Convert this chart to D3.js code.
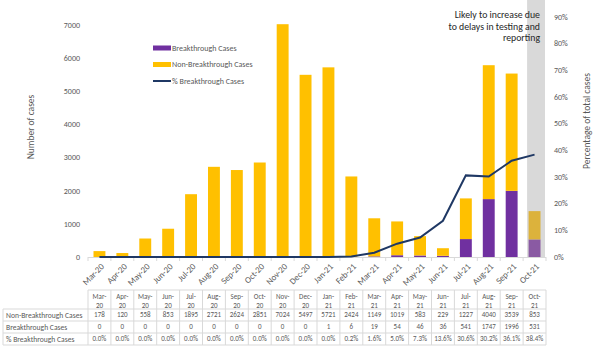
<!DOCTYPE html>
<html>
<head>
<meta charset="utf-8">
<script src="https://cdn.jsdelivr.net/npm/d3@7"></script>
<style>
  body { margin: 0; background: #fff; }
  svg { font-family: Calibri, Carlito, "Liberation Sans", sans-serif; }
</style>
</head>
<body>
<div id="chart"></div>
<script>
// values
const months = ["Mar-20", "Apr-20", "May-20", "Jun-20", "Jul-20", "Aug-20", "Sep-20", "Oct-20", "Nov-20", "Dec-20",
                "Jan-21", "Feb-21", "Mar-21", "Apr-21", "May-21", "Jun-21", "Jul-21", "Aug-21", "Sep-21", "Oct-21"];
const nonBreakthrough = [178, 120, 558, 853, 1895, 2721, 2624, 2851, 7024, 5497,
                         5721, 2424, 1149, 1019, 583, 229, 1227, 4040, 3539, 853];
const breakthrough = [0, 0, 0, 0, 0, 0, 0, 0, 0, 0,
                      1, 6, 19, 54, 46, 36, 541, 1747, 1996, 531];
const pctBreakthrough = [0.0, 0.0, 0.0, 0.0, 0.0, 0.0, 0.0, 0.0, 0.0, 0.0,
                         0.0, 0.2, 1.6, 5.0, 7.3, 13.6, 30.6, 30.2, 36.1, 38.4];
const leftTicks = [0, 1000, 2000, 3000, 4000, 5000, 6000, 7000];
const rightTicks = [0, 10, 20, 30, 40, 50, 60, 70, 80, 90];
const provisionalMonth = "Oct-21";

const width = 600, height = 350;
const purple = "#7030a0", gold = "#ffc000", navy = "#1f3864";
const textGray = "#595959";

const svg = d3.select("#chart").append("svg")
    .attr("width", width)
    .attr("height", height);

const x = d3.scaleBand().domain(months).range([88, 546]).paddingInner(0.48).paddingOuter(0.24);
const band = d3.scaleBand().domain(months).range([88, 546]);
const y = d3.scaleLinear().domain([0, 7000]).range([257, 25]);
const yPct = d3.scaleLinear().domain([0, 90]).range([257, 17]);

// shaded area for the last month (incomplete data)
svg.append("rect")
    .attr("x", band(provisionalMonth) + 4)
    .attr("y", 0)
    .attr("width", band.bandwidth() - 5)
    .attr("height", y(0))
    .attr("fill", "#d9d9d9");

// stacked bars
const stacked = d3.stack().keys(["b", "nb"])(months.map((m, i) => ({
    month: m, b: breakthrough[i], nb: nonBreakthrough[i]
})));
const faded = {b: "#8a5aa3", nb: "#dcb23c"};
const normal = {b: purple, nb: gold};

svg.append("g").selectAll("g")
    .data(stacked)
    .join("g")
    .selectAll("rect")
    .data(s => s.map(d => Object.assign(d, {key: s.key})))
    .join("rect")
        .attr("x", d => x(d.data.month))
        .attr("y", d => y(d[1]))
        .attr("width", x.bandwidth())
        .attr("height", d => y(d[0]) - y(d[1]))
        .attr("fill", d => d.data.month == provisionalMonth ? faded[d.key] : normal[d.key]);

// x axis line with tick marks between categories
const xAxis = svg.append("g");
xAxis.append("line")
    .attr("x1", 88).attr("x2", 546)
    .attr("y1", y(0) + 0.5).attr("y2", y(0) + 0.5)
    .attr("stroke", "#d9d9d9");
xAxis.selectAll(".tk")
    .data(months.concat(["end"]))
    .join("line")
        .attr("class", "tk")
        .attr("x1", (d, i) => 88 + i * band.bandwidth())
        .attr("x2", (d, i) => 88 + i * band.bandwidth())
        .attr("y1", y(0)).attr("y2", y(0) + 4)
        .attr("stroke", "#d9d9d9");
xAxis.selectAll("text")
    .data(months)
    .join("text")
        .attr("transform", d => "translate(" + (band(d) + band.bandwidth() / 2 + 3) + "," + (y(0) + 8) + ") rotate(-45)")
        .attr("text-anchor", "end")
        .attr("dy", "0.35em")
        .attr("font-size", 8.8)
        .attr("fill", textGray)
        .text(d => d);

// % line
const line = d3.line()
    .x((d, i) => band(months[i]) + band.bandwidth() / 2)
    .y(d => yPct(d));
svg.append("path")
    .datum(pctBreakthrough)
    .attr("d", line)
    .attr("fill", "none")
    .attr("stroke", navy)
    .attr("stroke-width", 2);

// left axis
svg.append("g").selectAll("text")
    .data(leftTicks)
    .join("text")
        .attr("x", 80)
        .attr("y", d => y(d))
        .attr("dy", "0.35em")
        .attr("text-anchor", "end")
        .attr("font-size", 8)
        .attr("fill", textGray)
        .text(d => d);

// right axis
svg.append("g").selectAll("text")
    .data(rightTicks)
    .join("text")
        .attr("x", 554)
        .attr("y", d => yPct(d))
        .attr("dy", "0.35em")
        .attr("font-size", 8)
        .attr("fill", textGray)
        .text(d => d + "%");

// axis titles
svg.append("text")
    .attr("transform", "translate(34,127) rotate(-90)")
    .attr("text-anchor", "middle")
    .attr("font-size", 9.5)
    .attr("fill", textGray)
    .text("Number of cases");
svg.append("text")
    .attr("transform", "translate(590,121) rotate(-90)")
    .attr("text-anchor", "middle")
    .attr("font-size", 9.5)
    .attr("fill", textGray)
    .text("Percentage of total cases");

// annotation
svg.append("text")
    .attr("text-anchor", "end")
    .attr("font-size", 9.8)
    .attr("fill", "#262626")
    .selectAll("tspan")
    .data(["Likely to increase due", "to delays in testing and", "reporting"])
    .join("tspan")
        .attr("x", 540)
        .attr("y", (d, i) => 18 + i * 11.5)
        .text(d => d);

// legend
const legendItems = [
    {label: "Breakthrough Cases", color: purple, type: "rect"},
    {label: "Non-Breakthrough Cases", color: gold, type: "rect"},
    {label: "% Breakthrough Cases", color: navy, type: "line"}
];
const legend = svg.append("g").selectAll("g")
    .data(legendItems)
    .join("g")
    .attr("transform", (d, i) => "translate(153," + (48 + i * 16.5) + ")");
legend.append("rect")
    .attr("x", 0)
    .attr("y", d => d.type == "rect" ? -2.5 : -1)
    .attr("width", 18)
    .attr("height", d => d.type == "rect" ? 5 : 2)
    .attr("fill", d => d.color);
legend.append("text")
    .attr("x", 19)
    .attr("dy", "0.35em")
    .attr("font-size", 8)
    .attr("fill", textGray)
    .text(d => d.label);

// data table
const table = svg.append("g");
const rowLines = [290, 309, 321, 333, 345];
const tableLine = "#d9d9d9";
table.append("line")
    .attr("x1", 88).attr("x2", 546)
    .attr("y1", rowLines[0]).attr("y2", rowLines[0])
    .attr("stroke", tableLine);
rowLines.slice(1).forEach(r => {
    table.append("line")
        .attr("x1", 3).attr("x2", 546)
        .attr("y1", r).attr("y2", r)
        .attr("stroke", tableLine);
});
table.append("line")
    .attr("x1", 3).attr("x2", 3)
    .attr("y1", rowLines[1]).attr("y2", rowLines[4])
    .attr("stroke", tableLine);
table.selectAll(".col")
    .data(months.concat(["end"]))
    .join("line")
        .attr("x1", (d, i) => 88 + i * band.bandwidth())
        .attr("x2", (d, i) => 88 + i * band.bandwidth())
        .attr("y1", rowLines[0]).attr("y2", rowLines[4])
        .attr("stroke", tableLine);

// header (month split over two lines)
table.selectAll(".hdr")
    .data(months)
    .join("text")
        .attr("class", "hdr")
        .attr("text-anchor", "middle")
        .attr("font-size", 7)
        .attr("fill", textGray)
        .selectAll("tspan")
        .data(d => {
            const p = d.split("-");
            return [{m: d, t: p[0] + "-", i: 0}, {m: d, t: p[1], i: 1}];
        })
        .join("tspan")
            .attr("x", d => band(d.m) + band.bandwidth() / 2)
            .attr("y", d => 299 + d.i * 8.5)
            .text(d => d.t);

const rows = [
    {label: "Non-Breakthrough Cases", values: nonBreakthrough.map(String)},
    {label: "Breakthrough Cases", values: breakthrough.map(String)},
    {label: "% Breakthrough Cases", values: pctBreakthrough.map(v => v.toFixed(1) + "%")}
];
rows.forEach((r, ri) => {
    const yy = (rowLines[ri + 1] + rowLines[ri + 2]) / 2;
    table.append("text")
        .attr("x", 6)
        .attr("y", yy)
        .attr("dy", "0.35em")
        .attr("font-size", 7.6)
        .attr("fill", textGray)
        .text(r.label);
    table.selectAll(".v" + ri)
        .data(r.values)
        .join("text")
            .attr("class", "v" + ri)
            .attr("x", (d, i) => band(months[i]) + band.bandwidth() / 2)
            .attr("y", yy)
            .attr("dy", "0.35em")
            .attr("text-anchor", "middle")
            .attr("font-size", 7)
            .attr("fill", textGray)
            .text(d => d);
});
</script>
</body>
</html>
